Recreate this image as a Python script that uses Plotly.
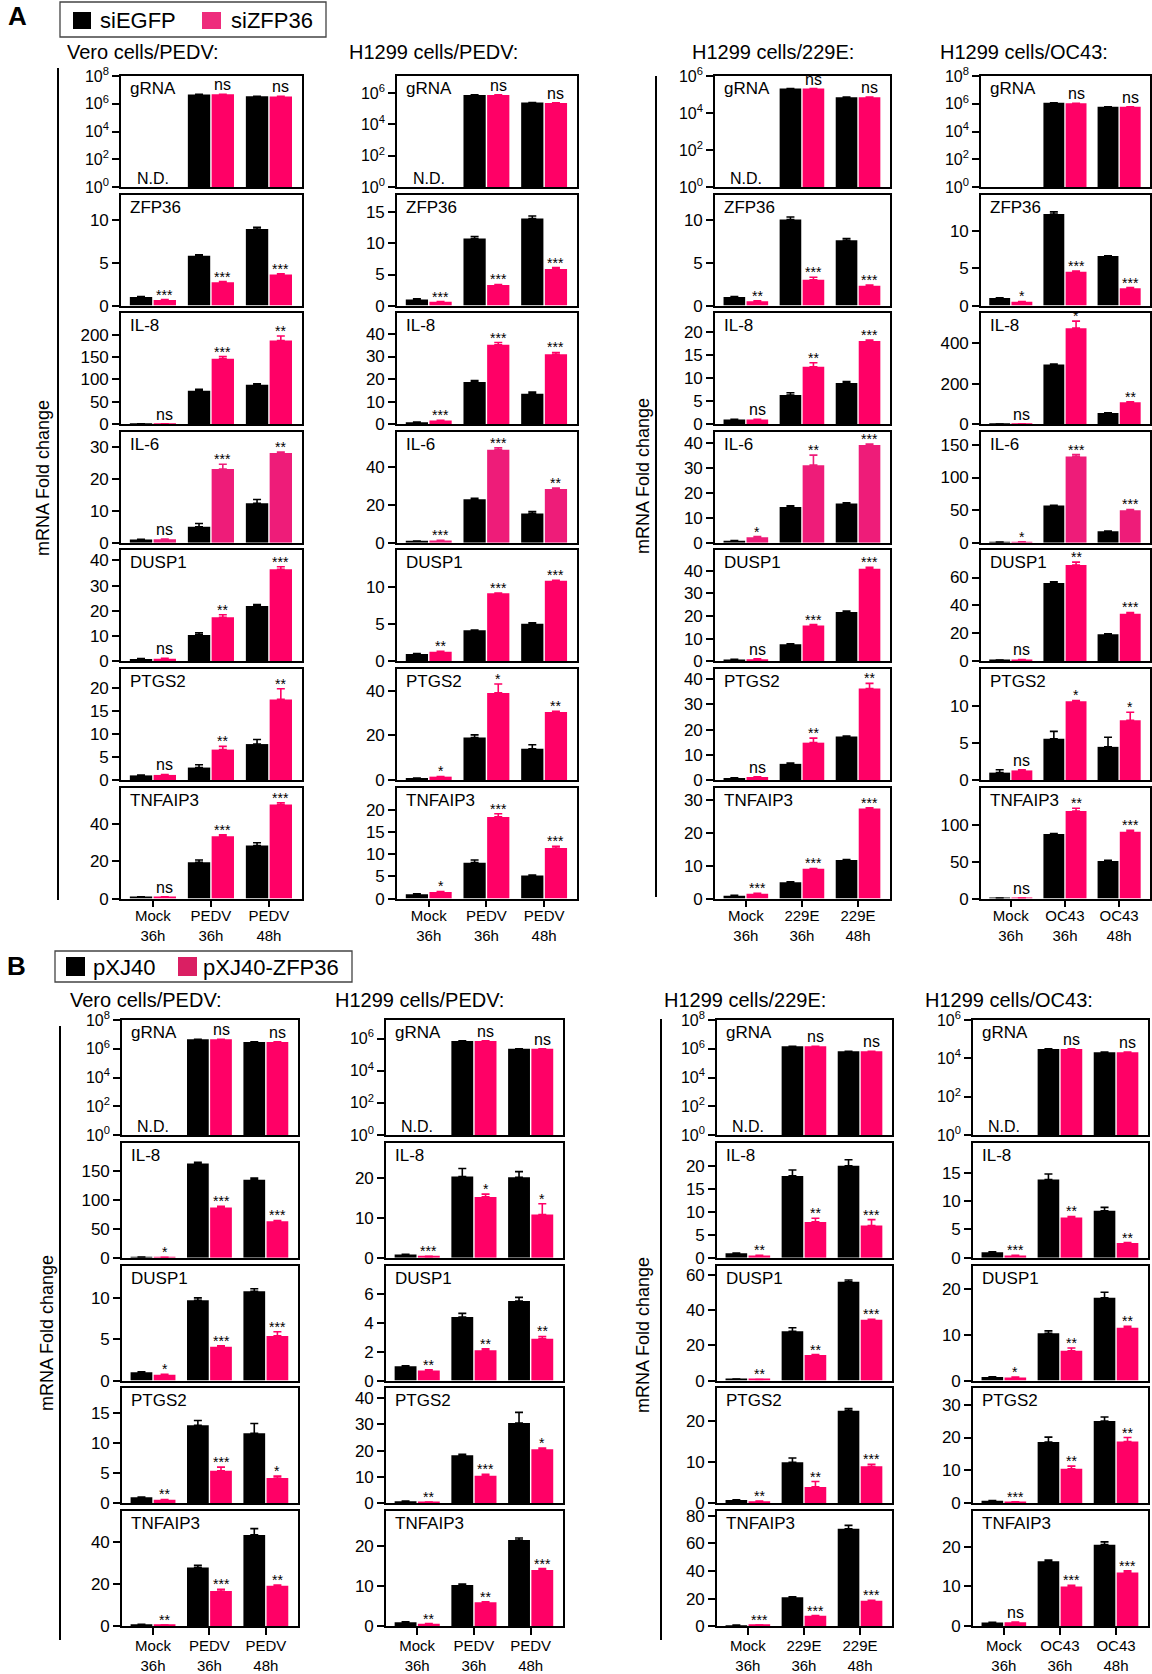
import math
import plotly.graph_objects as go

# ======================= DATA =======================
genes_A = ["gRNA", "ZFP36", "IL-8", "IL-6", "DUSP1", "PTGS2", "TNFAIP3"]
genes_B = ["gRNA", "IL-8", "DUSP1", "PTGS2", "TNFAIP3"]

titles_cols = ["Vero cells/PEDV:", "H1299 cells/PEDV:", "H1299 cells/229E:", "H1299 cells/OC43:"]
cats_PEDV = ["Mock<br>36h", "PEDV<br>36h", "PEDV<br>48h"]
cats_229E = ["Mock<br>36h", "229E<br>36h", "229E<br>48h"]
cats_OC43 = ["Mock<br>36h", "OC43<br>36h", "OC43<br>48h"]

legend_A = ["siEGFP", "siZFP36"]
legend_B = ["pXJ40", "pXJ40-ZFP36"]

# ---------- Panel A : siEGFP (ctrl) vs siZFP36 (kd) ----------
A_vero_ctrl = {"gRNA": [None, 4.7e6, 3.5e6], "ZFP36": [1.0, 5.8, 8.9], "IL-8": [1.0, 75, 88],
               "IL-6": [1.0, 5.0, 12.3], "DUSP1": [1.0, 10.5, 22.0], "PTGS2": [1.0, 2.7, 7.8],
               "TNFAIP3": [0.8, 19.5, 28.5]}
A_vero_ctrl_err = {"gRNA": [0, 0, 0], "ZFP36": [0.05, 0.1, 0.2], "IL-8": [0.1, 3, 2],
                   "IL-6": [0.1, 1.0, 1.2], "DUSP1": [0.1, 0.8, 0.5], "PTGS2": [0.1, 0.6, 1.0],
                   "TNFAIP3": [0.1, 1.2, 1.5]}
A_vero_kd = {"gRNA": [None, 4.8e6, 3.4e6], "ZFP36": [0.65, 2.7, 3.6], "IL-8": [1.0, 146, 187],
             "IL-6": [1.1, 23, 28], "DUSP1": [1.1, 17.5, 36.5], "PTGS2": [1.1, 6.6, 17.5],
             "TNFAIP3": [0.8, 33.5, 50.5]}
A_vero_kd_err = {"gRNA": [0, 0, 0], "ZFP36": [0.05, 0.1, 0.1], "IL-8": [0.1, 5, 10],
                 "IL-6": [0.1, 1.5, 0.3], "DUSP1": [0.1, 1.0, 1.0], "PTGS2": [0.1, 0.7, 2.3],
                 "TNFAIP3": [0.1, 0.8, 1.0]}
A_vero_sig = {"gRNA": ["", "ns", "ns"], "ZFP36": ["***", "***", "***"], "IL-8": ["ns", "***", "**"],
              "IL-6": ["ns", "***", "**"], "DUSP1": ["ns", "**", "***"], "PTGS2": ["ns", "**", "**"],
              "TNFAIP3": ["ns", "***", "***"]}

A_h1299_ctrl = {"gRNA": [None, 7.8e5, 2.5e5], "ZFP36": [1.0, 10.8, 14.0], "IL-8": [0.8, 18.7, 13.5],
                "IL-6": [0.8, 23, 15.5], "DUSP1": [1.0, 4.2, 5.1], "PTGS2": [0.8, 19, 14],
                "TNFAIP3": [1.0, 8.1, 5.2]}
A_h1299_ctrl_err = {"gRNA": [0, 0, 0], "ZFP36": [0.1, 0.3, 0.4], "IL-8": [0.1, 0.7, 0.7],
                    "IL-6": [0.1, 0.5, 1.0], "DUSP1": [0.05, 0.05, 0.1], "PTGS2": [0.1, 1.2, 1.8],
                    "TNFAIP3": [0.1, 0.6, 0.1]}
A_h1299_kd = {"gRNA": [None, 7.8e5, 2.4e5], "ZFP36": [0.6, 3.3, 5.9], "IL-8": [1.6, 35.2, 31],
              "IL-6": [1.2, 49.2, 28.5], "DUSP1": [1.3, 9.2, 10.9], "PTGS2": [1.5, 39, 30.5],
              "TNFAIP3": [1.5, 18.4, 11.4]}
A_h1299_kd_err = {"gRNA": [0, 0, 0], "ZFP36": [0.05, 0.1, 0.2], "IL-8": [0.1, 1.0, 0.8],
                  "IL-6": [0.1, 1.0, 0.5], "DUSP1": [0.05, 0.05, 0.05], "PTGS2": [0.1, 4, 0.3],
                  "TNFAIP3": [0.1, 0.7, 0.4]}
A_h1299_sig = {"gRNA": ["", "ns", "ns"], "ZFP36": ["***", "***", "***"], "IL-8": ["***", "***", "***"],
               "IL-6": ["***", "***", "**"], "DUSP1": ["**", "***", "***"], "PTGS2": ["*", "*", "**"],
               "TNFAIP3": ["*", "***", "***"]}

A_229E_ctrl = {"gRNA": [None, 2.1e5, 7.2e4], "ZFP36": [1.0, 10.0, 7.6], "IL-8": [1.0, 6.3, 8.9],
               "IL-6": [0.8, 14.3, 15.7], "DUSP1": [0.8, 7.6, 21.8], "PTGS2": [0.8, 6.4, 17.2],
               "TNFAIP3": [0.9, 5.0, 11.8]}
A_229E_ctrl_err = {"gRNA": [0, 0, 0], "ZFP36": [0.05, 0.3, 0.2], "IL-8": [0.05, 0.5, 0.3],
                   "IL-6": [0.1, 0.5, 0.3], "DUSP1": [0.1, 0.2, 0.4], "PTGS2": [0.1, 0.3, 0.2],
                   "TNFAIP3": [0.1, 0.1, 0.1]}
A_229E_kd = {"gRNA": [None, 2.1e5, 7.2e4], "ZFP36": [0.5, 3.0, 2.3], "IL-8": [1.0, 12.4, 18.0],
             "IL-6": [2.2, 31, 39], "DUSP1": [1.0, 15.8, 40.8], "PTGS2": [1.2, 14.8, 36.3],
             "TNFAIP3": [1.5, 9.1, 27.5]}
A_229E_kd_err = {"gRNA": [0, 0, 0], "ZFP36": [0.05, 0.3, 0.1], "IL-8": [0.05, 0.9, 0.2],
                 "IL-6": [0.3, 4, 0.4], "DUSP1": [0.1, 0.4, 0.6], "PTGS2": [0.1, 1.8, 2.0],
                 "TNFAIP3": [0.1, 0.1, 0.2]}
A_229E_sig = {"gRNA": ["", "ns", "ns"], "ZFP36": ["**", "***", "***"], "IL-8": ["ns", "**", "***"],
              "IL-6": ["*", "**", "***"], "DUSP1": ["ns", "***", "***"], "PTGS2": ["ns", "**", "**"],
              "TNFAIP3": ["***", "***", "***"]}

A_OC43_ctrl = {"gRNA": [None, 1.17e6, 6.0e5], "ZFP36": [1.0, 12.2, 6.6], "IL-8": [0.8, 295, 55],
               "IL-6": [1.0, 57, 17.5], "DUSP1": [0.8, 56, 19.5], "PTGS2": [1.0, 5.6, 4.5],
               "TNFAIP3": [0.5, 88, 51]}
A_OC43_ctrl_err = {"gRNA": [0, 0, 0], "ZFP36": [0.05, 0.3, 0.05], "IL-8": [0.1, 3, 1],
                   "IL-6": [0.1, 0.5, 0.5], "DUSP1": [0.1, 1, 0.3], "PTGS2": [0.4, 1.0, 1.3],
                   "TNFAIP3": [0.1, 0.5, 1]}
A_OC43_kd = {"gRNA": [None, 1.1e6, 6.0e5], "ZFP36": [0.5, 4.5, 2.3], "IL-8": [1.0, 475, 108],
             "IL-6": [1.5, 132, 50], "DUSP1": [1.3, 69, 34], "PTGS2": [1.3, 10.7, 8.1],
             "TNFAIP3": [0.8, 119, 91]}
A_OC43_kd_err = {"gRNA": [0, 0, 0], "ZFP36": [0.05, 0.1, 0.1], "IL-8": [0.1, 35, 3],
                 "IL-6": [0.1, 3, 1], "DUSP1": [0.1, 2, 1], "PTGS2": [0.1, 0.1, 1.1],
                 "TNFAIP3": [0.1, 4, 2]}
A_OC43_sig = {"gRNA": ["", "ns", "ns"], "ZFP36": ["*", "***", "***"], "IL-8": ["ns", "*", "**"],
              "IL-6": ["*", "***", "***"], "DUSP1": ["ns", "**", "***"], "PTGS2": ["ns", "*", "*"],
              "TNFAIP3": ["ns", "**", "***"]}

# ---------- Panel B : pXJ40 (ctrl) vs pXJ40-ZFP36 (oe) ----------
B_vero_ctrl = {"gRNA": [None, 4.5e6, 3.0e6], "IL-8": [1.0, 163, 135], "DUSP1": [1.0, 9.7, 10.8],
               "PTGS2": [1.0, 12.9, 11.6], "TNFAIP3": [0.8, 28, 43.5]}
B_vero_ctrl_err = {"gRNA": [0, 0, 0], "IL-8": [0.1, 2, 3], "DUSP1": [0.05, 0.3, 0.3],
                   "PTGS2": [0.05, 0.8, 1.6], "TNFAIP3": [0.1, 1, 3]}
B_vero_oe = {"gRNA": [None, 4.6e6, 3.0e6], "IL-8": [0.6, 87, 63], "DUSP1": [0.7, 4.1, 5.4],
             "PTGS2": [0.6, 5.4, 4.2], "TNFAIP3": [0.5, 16.8, 19.3]}
B_vero_oe_err = {"gRNA": [0, 0, 0], "IL-8": [0.1, 2, 1.5], "DUSP1": [0.05, 0.1, 0.5],
                 "PTGS2": [0.05, 0.6, 0.3], "TNFAIP3": [0.05, 0.8, 0.3]}
B_vero_sig = {"gRNA": ["", "ns", "ns"], "IL-8": ["*", "***", "***"], "DUSP1": ["*", "***", "***"],
              "PTGS2": ["**", "***", "*"], "TNFAIP3": ["**", "***", "**"]}

B_h1299_ctrl = {"gRNA": [None, 7.1e5, 2.3e5], "IL-8": [0.8, 20.3, 20.1], "DUSP1": [1.0, 4.4, 5.5],
                "PTGS2": [0.8, 18.3, 30.5], "TNFAIP3": [1.0, 10.3, 21.5]}
B_h1299_ctrl_err = {"gRNA": [0, 0, 0], "IL-8": [0.1, 2, 1.4], "DUSP1": [0.02, 0.25, 0.25],
                    "PTGS2": [0.1, 0.3, 4], "TNFAIP3": [0.1, 0.2, 0.5]}
B_h1299_oe = {"gRNA": [None, 7.1e5, 2.3e5], "IL-8": [0.3, 15.2, 10.8], "DUSP1": [0.7, 2.1, 2.9],
              "PTGS2": [0.5, 10.5, 20.5], "TNFAIP3": [0.6, 6.0, 14.0]}
B_h1299_oe_err = {"gRNA": [0, 0, 0], "IL-8": [0.05, 0.7, 2.7], "DUSP1": [0.05, 0.1, 0.15],
                  "PTGS2": [0.05, 0.5, 0.5], "TNFAIP3": [0.05, 0.1, 0.4]}
B_h1299_sig = {"gRNA": ["", "ns", "ns"], "IL-8": ["***", "*", "*"], "DUSP1": ["**", "**", "**"],
               "PTGS2": ["**", "***", "*"], "TNFAIP3": ["**", "**", "***"]}

B_229E_ctrl = {"gRNA": [None, 1.5e6, 6.6e5], "IL-8": [1.0, 17.8, 20.0], "DUSP1": [0.8, 28, 56],
               "PTGS2": [0.8, 10, 22.5], "TNFAIP3": [0.7, 21, 70.5]}
B_229E_ctrl_err = {"gRNA": [0, 0, 0], "IL-8": [0.05, 1.3, 1.3], "DUSP1": [0.1, 2, 1],
                   "PTGS2": [0.1, 1, 0.5], "TNFAIP3": [0.1, 0.3, 2.5]}
B_229E_oe = {"gRNA": [None, 1.5e6, 6.6e5], "IL-8": [0.5, 7.8, 7.0], "DUSP1": [0.6, 14.5, 34.5],
             "PTGS2": [0.5, 4.0, 9.0], "TNFAIP3": [0.8, 7.5, 18.5]}
B_229E_oe_err = {"gRNA": [0, 0, 0], "IL-8": [0.05, 0.8, 1.3], "DUSP1": [0.05, 0.2, 0.3],
                 "PTGS2": [0.05, 1.3, 0.5], "TNFAIP3": [0.05, 0.2, 0.3]}
B_229E_sig = {"gRNA": ["", "ns", "ns"], "IL-8": ["**", "**", "***"], "DUSP1": ["**", "**", "***"],
              "PTGS2": ["**", "**", "***"], "TNFAIP3": ["***", "***", "***"]}

B_OC43_ctrl = {"gRNA": [None, 3.1e4, 2.1e4], "IL-8": [1.0, 13.8, 8.3], "DUSP1": [0.8, 10.3, 18.0],
               "PTGS2": [0.8, 18.6, 25.0], "TNFAIP3": [0.9, 16.3, 20.5]}
B_OC43_ctrl_err = {"gRNA": [0, 0, 0], "IL-8": [0.05, 1, 0.6], "DUSP1": [0.05, 0.5, 1.2],
                   "PTGS2": [0.05, 1.5, 1.2], "TNFAIP3": [0.1, 0.3, 0.7]}
B_OC43_oe = {"gRNA": [None, 3.1e4, 2.1e4], "IL-8": [0.4, 7.1, 2.6], "DUSP1": [0.7, 6.5, 11.5],
             "PTGS2": [0.4, 10.5, 18.8], "TNFAIP3": [1.0, 10.0, 13.5]}
B_OC43_oe_err = {"gRNA": [0, 0, 0], "IL-8": [0.05, 0.2, 0.1], "DUSP1": [0.05, 0.6, 0.3],
                 "PTGS2": [0.05, 0.8, 1.2], "TNFAIP3": [0.05, 0.3, 0.4]}
B_OC43_sig = {"gRNA": ["", "ns", "ns"], "IL-8": ["***", "**", "**"], "DUSP1": ["*", "**", "**"],
              "PTGS2": ["***", "**", "**"], "TNFAIP3": ["ns", "***", "***"]}

# y-axis scales (top of range, tick values); gRNA axes are log10 (exponents)
A_yaxes = [
    {"gRNA": (8, [0, 2, 4, 6, 8]), "ZFP36": (12.9, [0, 5, 10]), "IL-8": (248, [0, 50, 100, 150, 200]),
     "IL-6": (34.6, [0, 10, 20, 30]), "DUSP1": (44, [0, 10, 20, 30, 40]), "PTGS2": (24.1, [0, 5, 10, 15, 20]),
     "TNFAIP3": (59.6, [0, 20, 40])},
    {"gRNA": (7.1, [0, 2, 4, 6]), "ZFP36": (17.85, [0, 5, 10, 15]), "IL-8": (49.2, [0, 10, 20, 30, 40]),
     "IL-6": (58.7, [0, 20, 40]), "DUSP1": (15.0, [0, 5, 10]), "PTGS2": (49.7, [0, 20, 40]),
     "TNFAIP3": (25, [0, 5, 10, 15, 20])},
    {"gRNA": (6, [0, 2, 4, 6]), "ZFP36": (12.9, [0, 5, 10]), "IL-8": (24, [0, 5, 10, 15, 20]),
     "IL-6": (44.3, [0, 10, 20, 30, 40]), "DUSP1": (48.9, [0, 10, 20, 30, 40]), "PTGS2": (44, [0, 10, 20, 30, 40]),
     "TNFAIP3": (33.9, [0, 10, 20, 30])},
    {"gRNA": (8, [0, 2, 4, 6, 8]), "ZFP36": (14.8, [0, 5, 10]), "IL-8": (549, [0, 200, 400]),
     "IL-6": (170, [0, 50, 100, 150]), "DUSP1": (79.4, [0, 20, 40, 60]), "PTGS2": (15.07, [0, 5, 10]),
     "TNFAIP3": (151, [0, 50, 100])},
]
B_yaxes = [
    {"gRNA": (8, [0, 2, 4, 6, 8]), "IL-8": (198.7, [0, 50, 100, 150]), "DUSP1": (13.9, [0, 5, 10]),
     "PTGS2": (19, [0, 5, 10, 15]), "TNFAIP3": (54.8, [0, 20, 40])},
    {"gRNA": (7.15, [0, 2, 4, 6]), "IL-8": (28.7, [0, 10, 20]), "DUSP1": (7.95, [0, 2, 4, 6]),
     "PTGS2": (43.6, [0, 10, 20, 30, 40]), "TNFAIP3": (28.7, [0, 10, 20])},
    {"gRNA": (8, [0, 2, 4, 6, 8]), "IL-8": (25, [0, 5, 10, 15, 20]), "DUSP1": (65.2, [0, 20, 40, 60]),
     "PTGS2": (27.9, [0, 10, 20]), "TNFAIP3": (83.3, [0, 20, 40, 60, 80])},
    {"gRNA": (6, [0, 2, 4, 6]), "IL-8": (20.3, [0, 5, 10, 15]), "DUSP1": (25, [0, 10, 20]),
     "PTGS2": (34.9, [0, 10, 20, 30]), "TNFAIP3": (28.9, [0, 10, 20])},
]

# ======================= STYLE / LAYOUT =======================
W, H = 1152, 1674
FONT = "Arial, 'Liberation Sans', Helvetica, sans-serif"
BLACK = "#000000"
PINK = "#FF0066"
PINK_IL6 = "#EE1C79"

PANELS = [
    dict(genes=genes_A, top0=76, pitch=118.6, h=111,
         boxes=[(121, 302), (397, 577), (715, 890), (981, 1150)],
         title_x=[65, 347, 690, 938], title_y=52,
         cats=[cats_PEDV, cats_PEDV, cats_229E, cats_OC43],
         ctrl=[A_vero_ctrl, A_h1299_ctrl, A_229E_ctrl, A_OC43_ctrl],
         ctrl_err=[A_vero_ctrl_err, A_h1299_ctrl_err, A_229E_ctrl_err, A_OC43_ctrl_err],
         trt=[A_vero_kd, A_h1299_kd, A_229E_kd, A_OC43_kd],
         trt_err=[A_vero_kd_err, A_h1299_kd_err, A_229E_kd_err, A_OC43_kd_err],
         sig=[A_vero_sig, A_h1299_sig, A_229E_sig, A_OC43_sig],
         nd=[True, True, True, False],
         yaxes=A_yaxes, xstandoff=-4),
    dict(genes=genes_B, top0=1020, pitch=122.8, h=115,
         boxes=[(122, 298), (386, 563), (717, 892), (973, 1148)],
         title_x=[68, 333, 662, 923], title_y=1000,
         cats=[cats_PEDV, cats_PEDV, cats_229E, cats_OC43],
         ctrl=[B_vero_ctrl, B_h1299_ctrl, B_229E_ctrl, B_OC43_ctrl],
         ctrl_err=[B_vero_ctrl_err, B_h1299_ctrl_err, B_229E_ctrl_err, B_OC43_ctrl_err],
         trt=[B_vero_oe, B_h1299_oe, B_229E_oe, B_OC43_oe],
         trt_err=[B_vero_oe_err, B_h1299_oe_err, B_229E_oe_err, B_OC43_oe_err],
         sig=[B_vero_sig, B_h1299_sig, B_229E_sig, B_OC43_sig],
         nd=[True, True, True, True],
         yaxes=B_yaxes, xstandoff=-2),
]


def px(xp):
    return xp / W


def py(yp):
    return 1 - yp / H


fig = go.Figure()
layout = {}
annotations = []
shapes = []
k = 0
OFF = 0.205  # bar centre offset within a group (matches bargap/bargroupgap below)

for P in PANELS:
    for ci in range(4):
        x0p, x1p = P["boxes"][ci]
        cats = P["cats"][ci]
        annotations.append(dict(text=titles_cols[ci], xref="paper", yref="paper",
                                x=px(P["title_x"][ci]), y=py(P["title_y"]), xanchor="left",
                                yanchor="middle", showarrow=False,
                                font=dict(size=20, family=FONT, color=BLACK)))
        for gi, gene in enumerate(P["genes"]):
            k += 1
            s = "" if k == 1 else str(k)
            top = P["top0"] + gi * P["pitch"]
            bot = top + P["h"]
            is_log = gene == "gRNA"
            is_bottom = gi == len(P["genes"]) - 1
            ytop, tv = P["yaxes"][ci][gene]
            ctrl = P["ctrl"][ci][gene]
            cerr = P["ctrl_err"][ci][gene]
            trt = P["trt"][ci][gene]
            terr = P["trt_err"][ci][gene]
            sig = P["sig"][ci][gene]
            tcol = PINK_IL6 if gene == "IL-6" else PINK

            for vals, errs, col in ((ctrl, cerr, BLACK), (trt, terr, tcol)):
                fig.add_trace(go.Bar(
                    x=cats, y=vals, xaxis="x" + s, yaxis="y" + s, showlegend=False,
                    marker=dict(color=col, line=dict(width=0)),
                    error_y=dict(type="data", symmetric=False, array=errs,
                                 arrayminus=[0] * len(errs), color=col,
                                 thickness=1.6, width=4),
                    hoverinfo="skip"))

            xa = dict(domain=[px(x0p), px(x1p)], anchor="y" + s, type="category",
                      range=[-0.55, 2.57], showline=True, mirror=True, linecolor=BLACK,
                      linewidth=1.6, showgrid=False, zeroline=False, automargin=False,
                      tickfont=dict(size=15, family=FONT, color=BLACK))
            if is_bottom:
                xa.update(ticks="outside", ticklen=7, tickwidth=1.6, tickcolor=BLACK,
                          showticklabels=True, ticklabelstandoff=P["xstandoff"])
            else:
                xa.update(ticks="", showticklabels=False)

            ya = dict(domain=[py(bot), py(top)], anchor="x" + s, showline=True, mirror=True,
                      linecolor=BLACK, linewidth=1.6, showgrid=False, zeroline=False,
                      automargin=False,
                      ticks="outside", ticklen=7, tickwidth=1.5, tickcolor=BLACK,
                      tickfont=dict(size=17, family=FONT, color=BLACK))
            if is_log:
                ya.update(type="log", range=[0, ytop], tickvals=[10 ** e for e in tv],
                          ticktext=["10<sup>%d</sup>" % e for e in tv],
                          tickfont=dict(size=16, family=FONT, color=BLACK))
            else:
                ya.update(type="linear", range=[0, ytop], tickvals=tv,
                          ticktext=[str(v) for v in tv])
            layout["xaxis" + s] = xa
            layout["yaxis" + s] = ya

            # gene label
            annotations.append(dict(text=gene, xref="paper", yref="paper",
                                    x=px(x0p + 7), y=py(top + 1), xanchor="left", yanchor="top",
                                    showarrow=False, font=dict(size=17, family=FONT, color=BLACK)))
            # significance marks
            for i, lab in enumerate(sig):
                if not lab or trt[i] is None:
                    continue
                yv = trt[i] + terr[i]
                if is_log:
                    yv = math.log10(yv)
                star = lab.startswith("*")
                annotations.append(dict(text=lab, xref="x" + s, yref="y" + s, x=i + OFF, y=yv,
                                        xanchor="center", yanchor="bottom", showarrow=False,
                                        yshift=-5 if star else -1,
                                        font=dict(size=14 if star else 16, family=FONT, color=BLACK)))
            if is_log and P["nd"][ci]:
                annotations.append(dict(text="N.D.", xref="x" + s, yref="y" + s, x=0, y=0,
                                        xanchor="center", yanchor="bottom", showarrow=False,
                                        yshift=-2, font=dict(size=16, family=FONT, color=BLACK)))

# y-axis titles and their bracket lines
for (xl, ly0, ly1, tx, ty) in [(58, 68, 900, 43, 478), (656, 76, 897, 643, 476),
                               (60, 1026, 1640, 47, 1333), (661, 1019, 1640, 643, 1335)]:
    shapes.append(dict(type="line", xref="paper", yref="paper", x0=px(xl), x1=px(xl),
                       y0=py(ly0), y1=py(ly1), line=dict(color=BLACK, width=2)))
    annotations.append(dict(text="mRNA Fold change", xref="paper", yref="paper", x=px(tx),
                            y=py(ty), textangle=-90, showarrow=False, xanchor="center",
                            yanchor="middle", font=dict(size=18, family=FONT, color=BLACK)))

# panel letters
for lab, (lx, ly) in zip(["A", "B"], [(17, 16), (16, 966)]):
    annotations.append(dict(text="<b>%s</b>" % lab, xref="paper", yref="paper", x=px(lx), y=py(ly),
                            xanchor="center", yanchor="middle", showarrow=False,
                            font=dict(size=26, family=FONT, color=BLACK)))

# hand-drawn legends
legend_specs = [
    dict(box=(60, 2, 326, 37), sq=[(73, 12, 91, 29), (202, 12, 221, 29)],
         txt_x=[98, 229], ty=20, colors=[BLACK, "#EE2C7C"], labels=legend_A),
    dict(box=(55, 951, 352, 982), sq=[(66, 957, 85, 976), (178, 957, 197, 976)],
         txt_x=[91, 201], ty=967, colors=[BLACK, "#DA1F63"], labels=legend_B),
]
for L in legend_specs:
    bx0, by0, bx1, by1 = L["box"]
    shapes.append(dict(type="rect", xref="paper", yref="paper", x0=px(bx0), x1=px(bx1),
                       y0=py(by1), y1=py(by0), line=dict(color="#444444", width=1.3)))
    for (sx0, sy0, sx1, sy1), col, tx, lab in zip(L["sq"], L["colors"], L["txt_x"], L["labels"]):
        shapes.append(dict(type="rect", xref="paper", yref="paper", x0=px(sx0), x1=px(sx1),
                           y0=py(sy1), y1=py(sy0), line=dict(width=0), fillcolor=col))
        annotations.append(dict(text=lab, xref="paper", yref="paper", x=px(tx), y=py(L["ty"]),
                                xanchor="left", yanchor="middle", showarrow=False,
                                font=dict(size=22, family=FONT, color=BLACK)))

fig.update_layout(
    width=W, height=H, margin=dict(l=0, r=0, t=0, b=0, pad=0, autoexpand=False),
    paper_bgcolor="white", plot_bgcolor="white",
    barmode="group", bargap=0.18, bargroupgap=0.06,
    annotations=annotations, shapes=shapes, showlegend=False,
    font=dict(family=FONT, color=BLACK),
    **layout,
)

# pin the figure to the page's top-left corner (no default body margin / scrollbars)
PIN_JS = ("document.documentElement.style.margin='0';document.body.style.margin='0';"
          "document.body.style.overflow='hidden';"
          "var gd=document.getElementById('{plot_id}');gd.style.position='fixed';"
          "gd.style.left='0px';gd.style.top='0px';")

fig.write_html("out.html", post_script=PIN_JS, config={"displayModeBar": False})
